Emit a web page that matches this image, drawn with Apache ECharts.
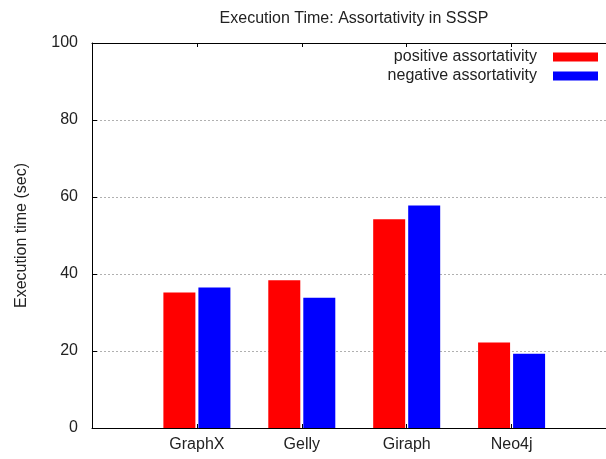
<!DOCTYPE html>
<html>
<head>
<meta charset="utf-8">
<script src="https://cdn.jsdelivr.net/npm/echarts@6/dist/echarts.min.js"></script>
<style>
  html, body { margin: 0; padding: 0; background: #fff; }
  #chart { width: 606px; height: 459px; }
</style>
</head>
<body>
<div id="chart"></div>
<script>
// 数据
const categories = ['GraphX', 'Gelly', 'Giraph', 'Neo4j'];
const positiveValues = [35.2, 38.4, 54.2, 22.2];
const negativeValues = [36.5, 33.8, 57.8, 19.3];
const seriesNames = ['positive assortativity', 'negative assortativity'];

const font = 'Liberation Sans, Arial, sans-serif';
const chart = echarts.init(document.getElementById('chart'), null, { renderer: 'canvas' });

// x 轴用数值轴，组中心在 0,1,2,3
function catLabel(v) {
	return Number.isInteger(v) && categories[v] ? categories[v] : '';
}
const xCommon = {
	type: 'value',
	min: -1,
	max: 3.9,
	interval: 1,
	splitLine: { show: false },
	axisLine: { show: true, onZero: false, lineStyle: { color: '#000', width: 1 } },
	axisTick: {
		show: true,
		inside: true,
		length: 4,
		lineStyle: { color: '#000' },
		// -1 处不画刻度
		customValues: [0, 1, 2, 3]
	}
};

const option = {
	animation: false,
	backgroundColor: '#fff',
	title: {
		text: 'Execution Time: Assortativity in SSSP',
		left: 349,
		textAlign: 'center',
		top: 6,
		textStyle: { fontFamily: font, fontSize: 16, fontWeight: 'normal', color: '#222' }
	},
	legend: {
		orient: 'vertical',
		right: 8,
		top: 49,
		padding: 0,
		align: 'right',
		itemWidth: 45,
		itemHeight: 9,
		itemGap: 3,
		icon: 'rect',
		textStyle: {
			fontFamily: font, fontSize: 16, color: '#222', lineHeight: 16,
			padding: [0, 11, 0, 0]
		},
		data: seriesNames
	},
	grid: { left: 92, right: 0, top: 43, bottom: 31, containLabel: false },
	xAxis: [
		Object.assign({}, xCommon, {
			position: 'bottom',
			axisLabel: {
				margin: 9,
				fontFamily: font, fontSize: 16, color: '#222',
				customValues: [0, 1, 2, 3],
				formatter: catLabel
			}
		}),
		Object.assign({}, xCommon, {
			position: 'top',
			axisLabel: { show: false }
		})
	],
	yAxis: {
		type: 'value',
		min: 0,
		max: 100,
		interval: 20,
		name: 'Execution time (sec)',
		nameLocation: 'middle',
		nameGap: 62,
		nameTextStyle: { fontFamily: font, fontSize: 16, color: '#222' },
		axisLine: { show: true, onZero: false, lineStyle: { color: '#000', width: 1 } },
		axisTick: { show: true, inside: true, length: 5, lineStyle: { color: '#000' } },
		axisLabel: { margin: 14, fontFamily: font, fontSize: 16, color: '#222' },
		splitLine: {
			show: true,
			showMinLine: false,
			showMaxLine: false,
			lineStyle: { color: '#b0b0b0', type: [2, 2], width: 1 }
		}
	},
	series: [
		{
			name: seriesNames[0],
			type: 'bar',
			xAxisIndex: 0,
			barWidth: 32,
			barGap: '9.4%',
			itemStyle: { color: '#ff0000' },
			data: positiveValues.map((v, i) => [i, v])
		},
		{
			name: seriesNames[1],
			type: 'bar',
			xAxisIndex: 0,
			barWidth: 32,
			barGap: '9.4%',
			itemStyle: { color: '#0000ff' },
			data: negativeValues.map((v, i) => [i, v])
		}
	]
};
chart.setOption(option);
</script>
</body>
</html>
